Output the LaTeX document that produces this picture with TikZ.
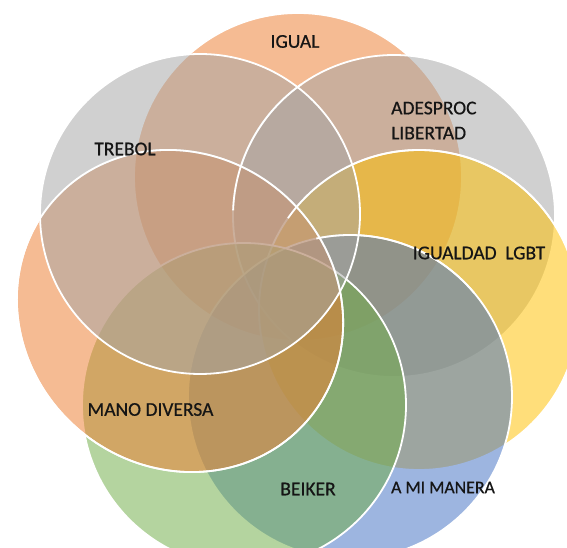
\documentclass[tikz,border=0pt]{standalone}
\usepackage{fontspec}
\setmainfont{Carlito}
\newfontfamily\lblfont{Carlito}[FakeBold=0.6]
\definecolor{cOrange}{HTML}{ED7D31}
\definecolor{cGray}{HTML}{A5A5A5}
\definecolor{cGold}{HTML}{FFC000}
\definecolor{cBlue}{HTML}{4472C4}
\definecolor{cGreen}{HTML}{70AD47}
\definecolor{labelcol}{HTML}{151515}
\tikzset{
  petal/.style={fill opacity=0.52, draw=white, line width=1.8},
  rim/.style={draw=white, line width=1.8},
  lbl/.style={font=\lblfont\fontsize{19.5}{25}\selectfont, text=labelcol, inner sep=0pt},
}
\begin{document}
\begin{tikzpicture}[x=1pt,y=1pt]
\useasboundingbox (0,0) rectangle (567,548);
\begin{scope}
  \clip (0,0) rectangle (567,548);
  \fill[white] (0,0) rectangle (567,548);
  % circles in drawing order
  \fill[petal, fill=cOrange] (298,371) circle (164);          % IGUAL
  \filldraw[petal, fill=cGray] (394,332) circle (161);        % ADESPROC
  \filldraw[petal, fill=cGold] (419,238) circle (160);        % IGUALDAD LGBT
  \filldraw[petal, fill=cBlue] (350,151) circle (162);        % A MI MANERA
  \filldraw[petal, fill=cGreen] (244,143) circle (162);       % BEIKER
  \filldraw[petal, fill=cOrange, rotate around={-40:(180,237)}]
      (180,237) ellipse [x radius=168, y radius=156];         % MANO DIVERSA
  \filldraw[petal, fill=cGray] (200,334) circle (160);        % TREBOL
  % crisp outlines on top
  \draw[rim, rotate around={-40:(180,237)}] (180,237) ellipse [x radius=168, y radius=156];
  \draw[rim] ([shift={(125:161)}]394,332) arc[start angle=125, end angle=178, radius=161];
  \draw[rim] ([shift={(35:160)}]419,238) arc[start angle=35, end angle=145, radius=160];
  \draw[rim] ([shift={(40:162)}]350,151) arc[start angle=40, end angle=102, radius=162];
\end{scope}
% labels
\node[lbl] (igual) at (295,506.5) {IGUAL};
\node[lbl] (trebol) at (125,399) {TREBOL};
\node[lbl, anchor=west, align=left] (adesproc) at (391,427.5) {ADESPROC\\LIBERTAD};
\node[lbl] (lgbt) at (479,295) {IGUALDAD\ \ LGBT};
\node[lbl] (mano) at (150.5,138.5) {MANO DIVERSA};
\node[lbl] (beiker) at (308,59) {BEIKER};
\node[lbl, font=\lblfont\fontsize{17.8}{22}\selectfont] (amimanera) at (443,60.5) {A MI MANERA};
\end{tikzpicture}
\end{document}
